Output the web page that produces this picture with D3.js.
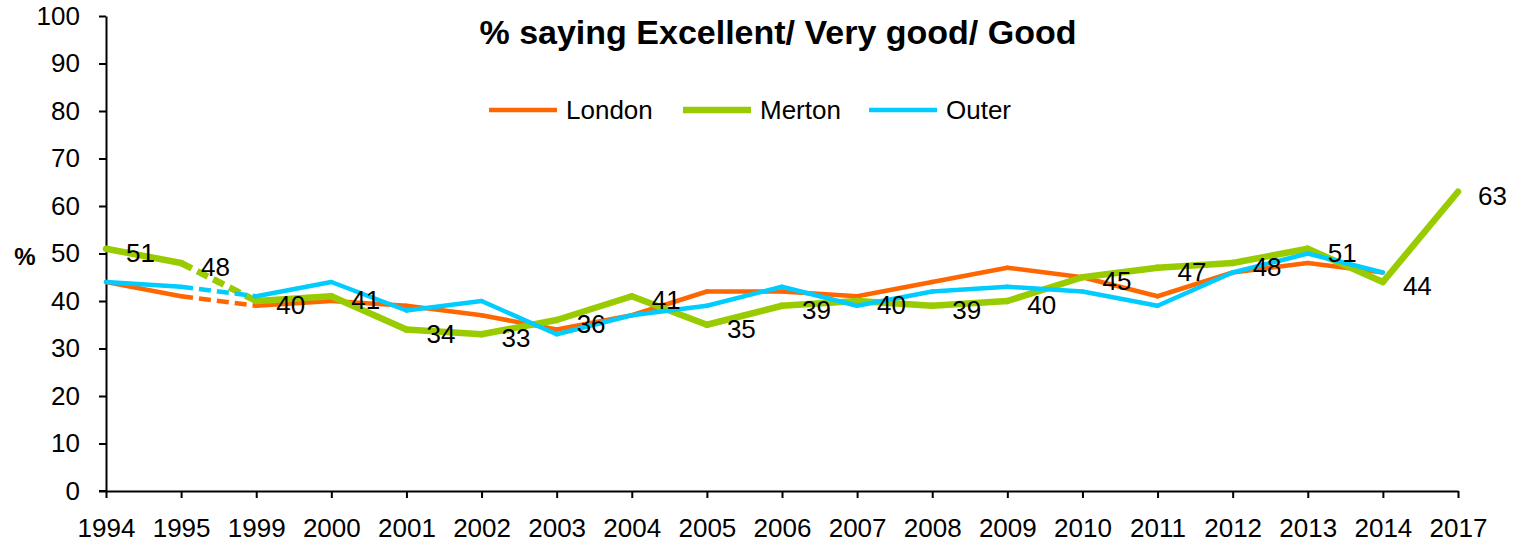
<!DOCTYPE html>
<html>
<head>
<meta charset="utf-8">
<script src="https://cdn.jsdelivr.net/npm/d3@7"></script>
<style>
  html, body { margin: 0; padding: 0; background: #fff; }
  svg { display: block; font-family: "Liberation Sans", Arial, sans-serif; }
</style>
</head>
<body>
<svg id="chart" width="1513" height="548"></svg>
<script>
const years = ["1994","1995","1999","2000","2001","2002","2003","2004","2005","2006","2007","2008","2009","2010","2011","2012","2013","2014","2017"];
const london = [44,41,39,40,39,37,34,37,42,42,41,44,47,45,41,46,48,46,null];
const merton = [51,48,40,41,34,33,36,41,35,39,40,39,40,45,47,48,51,44,63];
const outer  = [44,43,41,44,38,40,33,37,39,43,39,42,43,42,39,46,50,46,null];
const yTicks = [0,10,20,30,40,50,60,70,80,90,100];
const seriesNames = ["London","Merton","Outer"];
const seriesColors = ["#FF6600","#99CC00","#00CCFF"];
const seriesWidths = [4.5,6.5,4.5];
const titleText = "% saying Excellent/ Very good/ Good";
const dashedFrom = 1; // segment 1995 -> 1999 drawn dashed

const svg = d3.select("#chart");
const x = d3.scalePoint().domain(years).range([106, 1458]);
const y = d3.scaleLinear().domain([0, 100]).range([491, 16]);

// axes
const yAxis = svg.append("g").attr("transform", "translate(106,0)")
  .call(d3.axisLeft(y).tickValues(yTicks).tickSize(7).tickPadding(19).tickSizeOuter(0));
const xAxis = svg.append("g").attr("transform", "translate(0,491)")
  .call(d3.axisBottom(x).tickSize(7).tickPadding(21).tickSizeOuter(0));
[yAxis, xAxis].forEach(g => {
  g.selectAll("path").attr("stroke", "#000").attr("stroke-width", 2);
  g.selectAll("line").attr("stroke", "#000").attr("stroke-width", 2);
  g.selectAll("text").attr("fill", "#000").style("font-size", "26px")
   .style("font-family", "'Liberation Sans', Arial, sans-serif");
});
// extend x-axis left to meet the 0 tick
svg.append("line").attr("x1", 99).attr("x2", 106).attr("y1", 491).attr("y2", 491)
  .attr("stroke", "#000").attr("stroke-width", 2);

// y title
svg.append("text").attr("x", 25).attr("y", 256).attr("text-anchor", "middle")
  .attr("dominant-baseline", "central").style("font-size", "24px").style("font-weight", "bold")
  .text("%");

// title
svg.append("text").attr("x", 778).attr("y", 32).attr("text-anchor", "middle")
  .attr("dominant-baseline", "central").style("font-size", "34px").style("font-weight", "bold")
  .text(titleText);

// lines
const data = [london, merton, outer];
data.forEach((vals, si) => {
  const g = svg.append("g");
  for (let i = 0; i < vals.length - 1; i++) {
    if (vals[i] == null || vals[i+1] == null) continue;
    g.append("line")
      .attr("x1", x(years[i])).attr("y1", y(vals[i]))
      .attr("x2", x(years[i+1])).attr("y2", y(vals[i+1]))
      .attr("stroke", seriesColors[si]).attr("stroke-width", seriesWidths[si])
      .attr("stroke-linecap", i === dashedFrom ? "butt" : "round")
      .attr("stroke-dasharray", i === dashedFrom ? "12,6" : null);
  }
});

// Merton data labels
svg.append("g").selectAll("text").data(merton).join("text")
  .attr("x", (d, i) => x(years[i]) + 20)
  .attr("y", d => y(d) + 4)
  .attr("dominant-baseline", "central")
  .style("font-size", "26px")
  .attr("fill", "#000")
  .text(d => d);

// legend
const legendItems = [
  {lx: 489, tx: 566},
  {lx: 683, tx: 760},
  {lx: 869, tx: 946}
];
legendItems.forEach((it, i) => {
  svg.append("line").attr("x1", it.lx).attr("x2", it.lx + 68).attr("y1", 110).attr("y2", 110)
    .attr("stroke", seriesColors[i]).attr("stroke-width", seriesWidths[i]);
  svg.append("text").attr("x", it.tx).attr("y", 110).attr("dominant-baseline", "central")
    .style("font-size", "26px").text(seriesNames[i]);
});
</script>
</body>
</html>
